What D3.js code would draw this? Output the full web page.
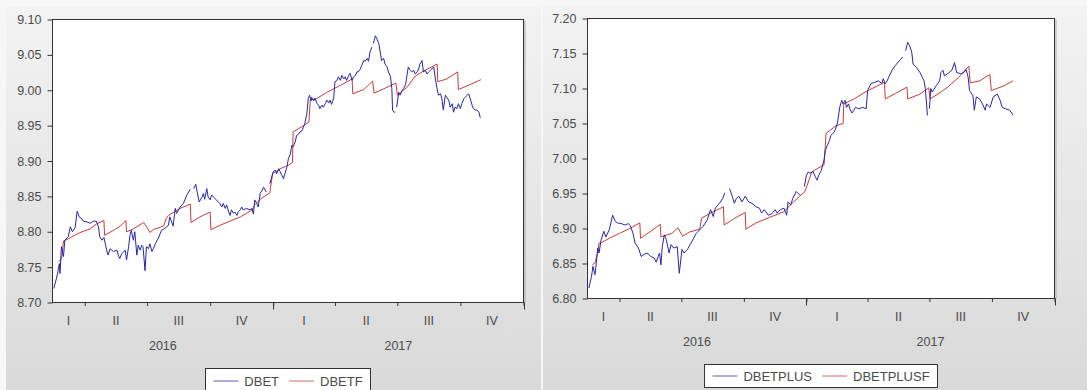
<!DOCTYPE html>
<html>
<head>
<meta charset="utf-8">
<script src="https://cdn.jsdelivr.net/npm/d3@7"></script>
<style>
body { margin: 0; background: #f7f7f7; }
svg { display: block; font-family: "Liberation Sans", Arial, sans-serif; }
</style>
</head>
<body>
<script>
// ---- data ----
var dbet = [
 ["2016-02-16",8.720],["2016-02-21",8.739],["2016-02-24",8.755],["2016-02-25",8.741],["2016-02-27",8.779],
 ["2016-03-01",8.765],["2016-03-03",8.788],["2016-03-08",8.793],["2016-03-11",8.807],["2016-03-14",8.800],
 ["2016-03-18",8.806],["2016-03-21",8.829],["2016-03-24",8.821],["2016-03-28",8.818],["2016-03-30",8.815],
 ["2016-04-04",8.814],["2016-04-09",8.812],["2016-04-14",8.815],["2016-04-18",8.815],["2016-04-21",8.807],
 ["2016-04-23",8.793],["2016-04-26",8.788],["2016-04-29",8.792],["2016-05-03",8.774],["2016-05-05",8.767],
 ["2016-05-08",8.776],["2016-05-13",8.772],["2016-05-18",8.774],["2016-05-20",8.767],["2016-05-22",8.762],
 ["2016-05-25",8.769],["2016-05-30",8.774],["2016-06-01",8.760],["2016-06-04",8.779],["2016-06-06",8.795],
 ["2016-06-08",8.802],["2016-06-11",8.788],["2016-06-13",8.800],["2016-06-16",8.767],["2016-06-18",8.781],
 ["2016-06-21",8.774],["2016-06-23",8.781],["2016-06-25",8.779],["2016-06-28",8.745],["2016-06-30",8.779],
 ["2016-07-03",8.776],["2016-07-05",8.783],["2016-07-08",8.772],["2016-07-10",8.776],["2016-07-13",8.783],
 ["2016-07-17",8.790],["2016-07-22",8.802],["2016-07-27",8.805],["2016-08-01",8.809],["2016-08-03",8.821],
 ["2016-08-08",8.808],["2016-08-11",8.833],["2016-08-13",8.826],["2016-08-16",8.831],["2016-08-18",8.835],
 ["2016-08-23",8.840],["2016-08-28",8.852],["2016-09-02",8.860],["2016-09-04",null],["2016-09-07",8.861],
 ["2016-09-10",8.867],["2016-09-12",8.856],["2016-09-15",8.842],["2016-09-19",8.849],["2016-09-21",8.854],
 ["2016-09-23",8.846],["2016-09-26",8.861],["2016-09-28",8.849],["2016-10-01",8.845],["2016-10-03",8.852],
 ["2016-10-06",8.849],["2016-10-10",8.845],["2016-10-15",8.840],["2016-10-18",8.835],["2016-10-20",8.840],
 ["2016-10-23",8.833],["2016-10-25",8.838],["2016-10-28",8.828],["2016-10-30",8.823],["2016-11-01",8.831],
 ["2016-11-04",8.826],["2016-11-06",8.828],["2016-11-09",8.823],["2016-11-11",8.828],["2016-11-14",8.831],
 ["2016-11-16",8.835],["2016-11-18",8.831],["2016-11-23",8.833],["2016-11-28",8.831],["2016-12-01",8.833],
 ["2016-12-03",8.825],["2016-12-05",8.845],["2016-12-08",8.840],["2016-12-10",8.835],["2016-12-13",8.854],
 ["2016-12-18",8.863],["2016-12-20",8.859],["2016-12-22",8.856],["2016-12-25",null],["2016-12-27",8.868],
 ["2017-01-01",8.885],["2017-01-04",8.887],["2017-01-06",8.882],["2017-01-09",8.889],["2017-01-11",8.885],
 ["2017-01-13",8.881],["2017-01-16",8.875],["2017-01-18",8.882],["2017-01-21",8.892],["2017-01-23",8.903],
 ["2017-01-26",8.910],["2017-01-28",8.922],["2017-01-30",8.920],["2017-02-02",8.927],["2017-02-04",8.936],
 ["2017-02-07",8.938],["2017-02-09",8.941],["2017-02-12",8.943],["2017-02-14",8.948],["2017-02-16",8.953],
 ["2017-02-19",8.967],["2017-02-21",8.988],["2017-02-23",8.993],["2017-02-25",8.985],["2017-02-26",8.990],
 ["2017-03-01",8.985],["2017-03-03",8.989],["2017-03-06",8.981],["2017-03-08",8.979],["2017-03-10",8.974],
 ["2017-03-13",8.979],["2017-03-15",8.976],["2017-03-18",8.981],["2017-03-20",8.986],["2017-03-23",8.982],
 ["2017-03-25",8.986],["2017-03-27",8.980],["2017-03-30",8.988],["2017-04-01",9.012],["2017-04-04",9.014],
 ["2017-04-06",9.019],["2017-04-09",9.014],["2017-04-11",9.021],["2017-04-14",9.016],["2017-04-16",9.019],
 ["2017-04-18",9.014],["2017-04-21",9.021],["2017-04-23",9.024],["2017-04-26",9.014],["2017-04-28",9.019],
 ["2017-05-01",9.021],["2017-05-03",9.026],["2017-05-05",9.026],["2017-05-08",9.030],["2017-05-10",9.035],
 ["2017-05-13",9.042],["2017-05-15",9.041],["2017-05-18",9.045],["2017-05-20",9.041],["2017-05-22",9.054],
 ["2017-05-25",9.061],["2017-05-26",null],["2017-05-27",9.066],["2017-05-30",9.077],["2017-06-01",9.073],
 ["2017-06-04",9.066],["2017-06-06",9.054],["2017-06-08",9.042],["2017-06-11",9.045],["2017-06-13",9.037],
 ["2017-06-16",9.033],["2017-06-18",9.026],["2017-06-21",9.019],["2017-06-23",9.002],["2017-06-24",8.972],
 ["2017-06-26",8.969],["2017-06-28",8.969],["2017-06-29",null],["2017-06-30",8.976],["2017-07-03",8.997],
 ["2017-07-05",8.993],["2017-07-08",9.000],["2017-07-10",9.002],["2017-07-13",9.008],["2017-07-15",9.021],
 ["2017-07-17",9.033],["2017-07-20",9.028],["2017-07-22",9.026],["2017-07-25",9.028],["2017-07-27",9.023],
 ["2017-07-30",9.026],["2017-08-01",9.030],["2017-08-03",9.037],["2017-08-06",9.042],["2017-08-08",9.026],
 ["2017-08-11",9.028],["2017-08-13",9.023],["2017-08-16",9.026],["2017-08-18",9.028],["2017-08-20",9.030],
 ["2017-08-23",9.033],["2017-08-25",9.019],["2017-08-28",9.002],["2017-08-30",8.993],["2017-09-02",8.995],
 ["2017-09-04",8.988],["2017-09-06",8.972],["2017-09-09",8.993],["2017-09-11",8.990],["2017-09-14",8.986],
 ["2017-09-16",8.976],["2017-09-19",8.981],["2017-09-21",8.969],["2017-09-23",8.976],["2017-09-26",8.974],
 ["2017-09-28",8.981],["2017-10-01",8.974],["2017-10-03",8.981],["2017-10-06",8.988],["2017-10-08",8.990],
 ["2017-10-11",8.993],["2017-10-13",8.995],["2017-10-15",8.989],["2017-10-18",8.979],["2017-10-20",8.974],
 ["2017-10-23",8.972],["2017-10-25",8.972],["2017-10-28",8.969],["2017-10-30",8.961]
];

var dbetf = [
 ["2016-02-23",8.758],["2016-02-26",8.760],["2016-02-28",8.766],["2016-03-01",8.787],["2016-03-06",8.789],
 ["2016-03-15",8.794],["2016-03-28",8.800],["2016-04-09",8.804],["2016-04-18",8.811],["2016-04-29",8.816],
 ["2016-04-30",8.795],["2016-05-13",8.802],["2016-05-23",8.808],["2016-05-31",8.816],["2016-06-01",8.800],
 ["2016-06-11",8.804],["2016-06-26",8.813],["2016-07-01",8.806],["2016-07-05",8.799],["2016-07-10",8.803],
 ["2016-07-25",8.808],["2016-07-29",8.819],["2016-08-01",8.823],["2016-08-18",8.833],["2016-09-02",8.839],
 ["2016-09-03",8.813],["2016-09-16",8.821],["2016-10-01",8.828],["2016-10-02",8.803],["2016-10-15",8.809],
 ["2016-10-30",8.815],["2016-11-14",8.821],["2016-11-23",8.826],["2016-12-01",8.831],["2016-12-05",8.838],
 ["2016-12-13",8.846],["2016-12-27",8.855],["2016-12-31",8.882],["2017-01-11",8.889],["2017-01-23",8.894],
 ["2017-01-29",8.898],["2017-01-30",8.941],["2017-02-14",8.950],["2017-02-22",8.955],["2017-02-24",8.986],
 ["2017-03-05",8.988],["2017-03-20",8.997],["2017-03-30",9.002],["2017-04-09",9.007],["2017-04-26",9.016],
 ["2017-04-27",8.995],["2017-05-13",9.001],["2017-05-26",9.013],["2017-05-28",8.996],["2017-06-11",9.002],
 ["2017-06-29",9.010],["2017-07-01",8.993],["2017-07-15",9.004],["2017-07-27",9.020],["2017-08-08",9.027],
 ["2017-08-28",9.037],["2017-08-29",9.012],["2017-09-11",9.016],["2017-09-27",9.026],["2017-09-28",9.001],
 ["2017-10-15",9.008],["2017-10-31",9.015]
];

var dbetplus = [
 ["2016-02-16",6.815],["2016-02-20",6.832],["2016-02-22",6.846],["2016-02-25",6.834],["2016-02-27",6.851],
 ["2016-02-29",6.872],["2016-03-02",6.865],["2016-03-05",6.884],["2016-03-09",6.896],["2016-03-12",6.888],
 ["2016-03-17",6.898],["2016-03-22",6.919],["2016-03-26",6.910],["2016-03-29",6.908],["2016-04-04",6.907],
 ["2016-04-09",6.905],["2016-04-14",6.907],["2016-04-17",6.904],["2016-04-21",6.893],["2016-04-24",6.879],
 ["2016-04-29",6.872],["2016-05-03",6.860],["2016-05-07",6.863],["2016-05-12",6.865],["2016-05-17",6.860],
 ["2016-05-22",6.858],["2016-05-25",6.852],["2016-05-28",6.860],["2016-05-30",6.865],["2016-06-01",6.848],
 ["2016-06-03",6.874],["2016-06-06",6.891],["2016-06-09",6.884],["2016-06-13",6.865],["2016-06-16",6.877],
 ["2016-06-20",6.872],["2016-06-25",6.874],["2016-06-28",6.836],["2016-07-02",6.870],["2016-07-05",6.865],
 ["2016-07-10",6.870],["2016-07-18",6.884],["2016-07-23",6.893],["2016-07-28",6.898],["2016-08-02",6.903],
 ["2016-08-08",6.912],["2016-08-13",6.927],["2016-08-17",6.917],["2016-08-20",6.929],["2016-08-26",6.936],
 ["2016-08-31",6.943],["2016-09-03",6.951],["2016-09-05",null],["2016-09-10",6.957],["2016-09-14",6.946],
 ["2016-09-17",6.936],["2016-09-20",6.943],["2016-09-24",6.946],["2016-09-28",6.938],["2016-10-03",6.946],
 ["2016-10-08",6.938],["2016-10-13",6.936],["2016-10-19",6.931],["2016-10-24",6.929],["2016-10-27",6.922],
 ["2016-10-31",6.927],["2016-11-06",6.919],["2016-11-11",6.921],["2016-11-16",6.927],["2016-11-19",6.922],
 ["2016-11-24",6.927],["2016-11-29",6.929],["2016-12-03",6.919],["2016-12-05",6.938],["2016-12-09",6.934],
 ["2016-12-12",6.943],["2016-12-17",6.953],["2016-12-20",6.950],["2016-12-23",6.948],["2016-12-25",null],
 ["2016-12-29",6.960],["2017-01-01",6.976],["2017-01-04",6.981],["2017-01-06",6.979],["2017-01-11",6.981],
 ["2017-01-14",6.974],["2017-01-17",6.969],["2017-01-19",6.976],["2017-01-23",6.983],["2017-01-27",6.998],
 ["2017-01-29",7.012],["2017-02-01",7.019],["2017-02-04",7.026],["2017-02-06",7.033],["2017-02-09",7.036],
 ["2017-02-11",7.038],["2017-02-14",7.045],["2017-02-16",7.052],["2017-02-19",7.073],["2017-02-22",7.083],
 ["2017-02-24",7.078],["2017-02-27",7.083],["2017-03-01",7.073],["2017-03-04",7.078],["2017-03-06",7.071],
 ["2017-03-09",7.065],["2017-03-12",7.069],["2017-03-14",7.073],["2017-03-19",7.071],["2017-03-25",7.073],
 ["2017-03-30",7.071],["2017-04-01",7.097],["2017-04-06",7.107],["2017-04-12",7.109],["2017-04-17",7.111],
 ["2017-04-22",7.107],["2017-04-24",7.114],["2017-04-27",7.107],["2017-04-30",7.111],["2017-05-02",7.116],
 ["2017-05-07",7.126],["2017-05-12",7.133],["2017-05-18",7.140],["2017-05-23",7.145],["2017-05-25",null],
 ["2017-05-27",7.154],["2017-05-30",7.166],["2017-06-02",7.161],["2017-06-05",7.152],["2017-06-07",7.135],
 ["2017-06-12",7.130],["2017-06-17",7.123],["2017-06-23",7.111],["2017-06-25",7.100],["2017-06-28",7.062],
 ["2017-06-29",7.062],["2017-06-30",null],["2017-07-01",7.071],["2017-07-03",7.100],["2017-07-05",7.095],
 ["2017-07-11",7.104],["2017-07-16",7.111],["2017-07-18",7.123],["2017-07-21",7.126],["2017-07-23",7.118],
 ["2017-07-29",7.122],["2017-08-03",7.126],["2017-08-07",7.137],["2017-08-10",7.123],["2017-08-16",7.121],
 ["2017-08-21",7.123],["2017-08-24",7.127],["2017-08-27",7.116],["2017-08-29",7.097],["2017-09-03",7.090],
 ["2017-09-05",7.069],["2017-09-08",7.088],["2017-09-13",7.085],["2017-09-17",7.078],["2017-09-21",7.069],
 ["2017-09-23",7.078],["2017-09-28",7.073],["2017-10-03",7.088],["2017-10-09",7.092],["2017-10-13",7.083],
 ["2017-10-16",7.073],["2017-10-21",7.071],["2017-10-27",7.069],["2017-11-01",7.062]
];

var dbetplusf = [
 ["2016-02-21",6.848],["2016-02-25",6.851],["2016-02-29",6.865],["2016-03-02",6.879],["2016-03-06",6.880],
 ["2016-03-17",6.886],["2016-04-01",6.893],["2016-04-16",6.900],["2016-05-01",6.908],["2016-05-02",6.886],
 ["2016-05-17",6.896],["2016-05-31",6.906],["2016-06-01",6.888],["2016-06-17",6.893],["2016-06-26",6.901],
 ["2016-07-03",6.889],["2016-07-13",6.895],["2016-07-28",6.899],["2016-07-31",6.915],["2016-08-13",6.922],
 ["2016-09-01",6.931],["2016-09-02",6.905],["2016-09-18",6.915],["2016-10-03",6.923],["2016-10-04",6.899],
 ["2016-10-19",6.908],["2016-11-08",6.916],["2016-11-29",6.924],["2016-12-09",6.934],["2016-12-22",6.946],
 ["2016-12-30",6.953],["2017-01-09",6.981],["2017-01-27",6.991],["2017-01-30",7.036],["2017-02-14",7.047],
 ["2017-02-24",7.050],["2017-02-25",7.078],["2017-03-12",7.085],["2017-04-01",7.097],["2017-04-12",7.102],
 ["2017-04-26",7.109],["2017-04-27",7.085],["2017-05-12",7.093],["2017-05-29",7.102],["2017-05-30",7.085],
 ["2017-06-17",7.092],["2017-06-30",7.101],["2017-07-02",7.085],["2017-07-18",7.095],["2017-07-29",7.103],
 ["2017-08-13",7.116],["2017-08-28",7.132],["2017-08-30",7.108],["2017-09-13",7.111],["2017-09-28",7.120],
 ["2017-09-30",7.097],["2017-10-19",7.104],["2017-11-01",7.111]
];

var leftTicks = [8.70, 8.75, 8.80, 8.85, 8.90, 8.95, 9.00, 9.05, 9.10];
var rightTicks = [6.80, 6.85, 6.90, 6.95, 7.00, 7.05, 7.10, 7.15, 7.20];
var quarterNames = ["I", "II", "III", "IV"];
var years = [2016, 2017];
var rangeStart = "2016-02-14", rangeEnd = "2018-01-01";

var BLUE = "#2626a6", RED = "#c83a3a", INK = "#4a4a4a";

var parse = d3.timeParse("%Y-%m-%d");
var xStart = parse(rangeStart), xEnd = parse(rangeEnd);

var svg = d3.select("body").append("svg")
    .attr("width", 1087)
    .attr("height", 390);

var grad = svg.append("defs").append("linearGradient")
    .attr("id", "bg").attr("x1", 0).attr("y1", 0).attr("x2", 0).attr("y2", 1);
grad.append("stop").attr("offset", "0%").attr("stop-color", "#f3f3f3");
grad.append("stop").attr("offset", "100%").attr("stop-color", "#d9d9d9");

function drawPanel(p){
    var g = svg.append("g");

    g.append("rect")
	.attr("x", p.bg[0]).attr("y", p.bg[1])
	.attr("width", p.bg[2]).attr("height", p.bg[3])
	.attr("fill", "url(#bg)");

    var x = d3.scaleTime().domain([xStart, xEnd]).range([p.left, p.right]);
    var y = d3.scaleLinear()
	.domain([p.ticks[0], p.ticks[p.ticks.length - 1]])
	.range([p.bottom, p.top]);

    // plot frame
    g.append("rect")
	.attr("x", p.left).attr("y", p.top)
	.attr("width", p.right - p.left).attr("height", p.bottom - p.top)
	.attr("fill", "#fff")
	.attr("stroke", "#333");
    g.append("line")
	.attr("x1", p.right + 1.5).attr("x2", p.right + 1.5)
	.attr("y1", p.top + 1).attr("y2", p.bottom)
	.attr("stroke", "#a8a8a8");

    // y axis
    var ya = g.append("g")
	.attr("transform", "translate(" + p.left + ",0)")
	.call(d3.axisLeft(y).tickValues(p.ticks).tickSize(5).tickPadding(6)
	      .tickFormat(d3.format(".2f")));
    ya.select(".domain").remove();
    ya.selectAll("line").attr("stroke", "#333");
    ya.selectAll("text").attr("fill", INK)
	.style("font-size", "12.5px").style("font-family", null);

    // x axis: quarter ticks
    var quarters = d3.timeMonth.every(3).range(xStart, d3.timeDay.offset(xEnd, 1));
    var xa = g.append("g")
	.attr("transform", "translate(0," + p.bottom + ")")
	.call(d3.axisBottom(x).tickValues(quarters).tickSize(3.5)
	      .tickSizeOuter(0).tickFormat(""));
    xa.select(".domain").remove();
    xa.selectAll("line").attr("stroke", "#333");

    // longer ticks at year boundaries
    g.selectAll(".yeartick")
	.data(quarters.filter(function(d){ return d.getMonth() == 0; }))
	.enter().append("line")
	.attr("x1", function(d){ return Math.round(x(d)) + 0.5; })
	.attr("x2", function(d){ return Math.round(x(d)) + 0.5; })
	.attr("y1", p.bottom).attr("y2", p.bottom + 7)
	.attr("stroke", "#333");

    // quarter labels
    var qStarts = d3.timeMonth.every(3).range(d3.timeMonth.every(3).floor(xStart), xEnd);
    g.selectAll(".qlab")
	.data(qStarts)
	.enter().append("text")
	.attr("x", function(d){
	    var a = Math.max(+d, +xStart);
	    var b = Math.min(+d3.timeMonth.offset(d, 3), +xEnd);
	    return x(new Date((a + b) / 2));
	})
	.attr("y", p.qY)
	.attr("text-anchor", "middle")
	.attr("fill", INK)
	.style("font-size", "12.5px")
	.text(function(d){ return quarterNames[d.getMonth() / 3]; });

    // year labels
    g.selectAll(".ylab")
	.data(years)
	.enter().append("text")
	.attr("x", function(d){
	    var a = Math.max(+new Date(d, 0, 1), +xStart);
	    var b = Math.min(+new Date(d + 1, 0, 1), +xEnd);
	    return x(new Date((a + b) / 2));
	})
	.attr("y", p.yearY)
	.attr("text-anchor", "middle")
	.attr("fill", INK)
	.style("font-size", "12.5px")
	.text(function(d){ return d; });

    // series
    var line = d3.line()
	.defined(function(d){ return d[1] != null; })
	.x(function(d){ return x(parse(d[0])); })
	.y(function(d){ return y(d[1]); });

    g.append("path").datum(p.fc)
	.attr("d", line).attr("fill", "none")
	.attr("stroke", RED).attr("stroke-width", 1);
    g.append("path").datum(p.act)
	.attr("d", line).attr("fill", "none")
	.attr("stroke", BLUE).attr("stroke-width", 1);

    // legend
    var lg = g.append("g");
    var box = lg.append("rect")
	.attr("y", p.legTop).attr("height", 23)
	.attr("fill", "#fff").attr("stroke", "#333");
    var items = [[p.names[0], BLUE], [p.names[1], RED]];
    var cx = 0;
    items.forEach(function(it, i){
	if (i > 0) cx += 10;
	lg.append("line")
	    .attr("x1", cx).attr("x2", cx + 25)
	    .attr("y1", p.legLine).attr("y2", p.legLine)
	    .attr("stroke", it[1]).attr("stroke-opacity", 0.75)
	    .attr("class", "legitem");
	cx += 31;
	var t = lg.append("text")
	    .attr("x", cx).attr("y", p.legText)
	    .attr("fill", INK)
	    .style("font-size", "13px")
	    .attr("class", "legitem")
	    .text(it[0]);
	cx += t.node().getComputedTextLength();
    });
    var w = cx + 16;
    var x0 = (p.left + p.right) / 2 - w / 2;
    box.attr("x", Math.round(x0) + 0.5).attr("width", Math.round(w));
    lg.selectAll(".legitem").attr("transform", "translate(" + (x0 + 8) + ",0)");
}

drawPanel({
    bg: [6, 7, 535, 383],
    left: 52.5, right: 523.5, top: 19.5, bottom: 302.5,
    ticks: leftTicks, act: dbet, fc: dbetf, names: ["DBET", "DBETF"],
    qY: 325, yearY: 350, legTop: 368.5, legLine: 381, legText: 385.5
});

drawPanel({
    bg: [543, 5, 544, 385],
    left: 587.5, right: 1054.5, top: 18.5, bottom: 298.5,
    ticks: rightTicks, act: dbetplus, fc: dbetplusf, names: ["DBETPLUS", "DBETPLUSF"],
    qY: 321, yearY: 346, legTop: 364.5, legLine: 376, legText: 380.5
});
</script>
</body>
</html>
